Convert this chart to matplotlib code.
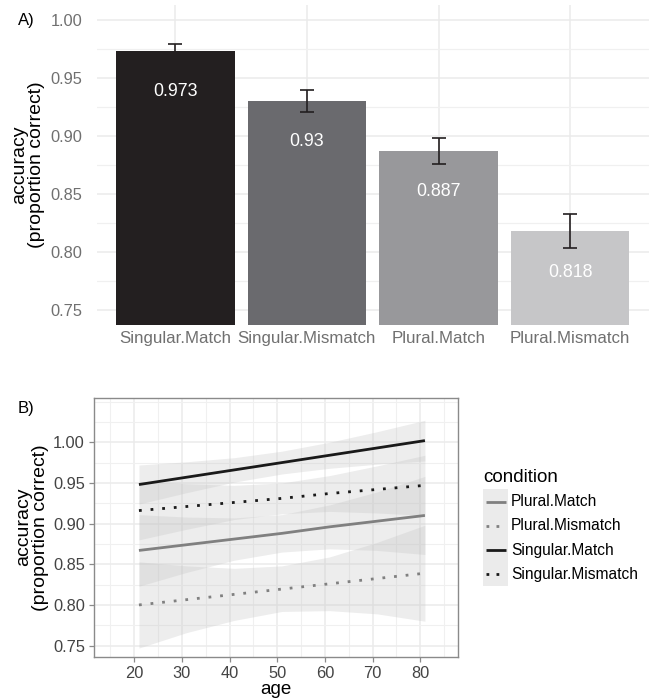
import matplotlib
matplotlib.use("Agg")
import matplotlib.pyplot as plt
from matplotlib.patches import Rectangle
from matplotlib.lines import Line2D

plt.rcParams["font.family"] = ["Liberation Sans", "DejaVu Sans"]

# ---- panel A: mean accuracy per condition ----
conditions = ["Singular.Match", "Singular.Mismatch", "Plural.Match", "Plural.Mismatch"]
accuracy = [0.973, 0.93, 0.887, 0.818]
accuracy_se = [0.006, 0.0095, 0.0115, 0.0145]
bar_colors = ["#231f20", "#6a6a6e", "#98989b", "#c6c6c8"]

# ---- panel B: linear fits of accuracy by age, with confidence bands ----
ages = [21, 31, 41, 51, 61, 71, 81]
age_ticks = [20, 30, 40, 50, 60, 70, 80]

sing_match_fit = [0.948, 0.957, 0.966, 0.975, 0.984, 0.993, 1.002]
sing_match_lo = [0.924, 0.938, 0.951, 0.961, 0.968, 0.973, 0.977]
sing_match_hi = [0.972, 0.976, 0.981, 0.989, 1.000, 1.013, 1.027]

sing_mis_fit = [0.916, 0.921, 0.926, 0.931, 0.937, 0.942, 0.947]
sing_mis_lo = [0.880, 0.893, 0.905, 0.912, 0.915, 0.913, 0.910]
sing_mis_hi = [0.952, 0.949, 0.947, 0.950, 0.959, 0.971, 0.984]

plur_match_fit = [0.867, 0.874, 0.881, 0.888, 0.896, 0.903, 0.910]
plur_match_lo = [0.823, 0.840, 0.855, 0.865, 0.869, 0.867, 0.862]
plur_match_hi = [0.911, 0.908, 0.907, 0.911, 0.923, 0.939, 0.958]

plur_mis_fit = [0.800, 0.8065, 0.813, 0.8195, 0.826, 0.8325, 0.839]
plur_mis_lo = [0.747, 0.766, 0.781, 0.792, 0.793, 0.789, 0.780]
plur_mis_hi = [0.853, 0.848, 0.845, 0.848, 0.859, 0.877, 0.898]

legend_order = ["Plural.Match", "Plural.Mismatch", "Singular.Match", "Singular.Mismatch"]

W, H, DPI = 658, 698, 100
fig = plt.figure(figsize=(W / DPI, H / DPI), dpi=DPI)
fig.patch.set_facecolor("white")


def box(left, top, right, bottom):
    return [left / W, 1 - bottom / H, (right - left) / W, (bottom - top) / H]


GRID = "#ebebeb"

# ================= Panel A =================
axA = fig.add_axes(box(96.5, 5, 649, 325))
xpos = list(range(1, len(conditions) + 1))
axA.bar(xpos, accuracy, width=0.9, color=bar_colors, zorder=2)
axA.errorbar(xpos, accuracy, yerr=accuracy_se, fmt="none", ecolor="#231f20",
             elinewidth=1.2, capsize=4.7, capthick=1.2, zorder=3)
for x, v in zip(xpos, accuracy):
    axA.text(x, v - 0.035, f"{v:g}", ha="center", va="center", color="white",
             fontsize=12.8, zorder=4)

axA.set_xlim(0.4, 4.6)
axA.set_ylim(0.7375, 1.0125)
axA.set_xticks(xpos)
axA.set_xticklabels(conditions, fontsize=12.2)
axA.set_yticks([0.75, 0.80, 0.85, 0.90, 0.95, 1.00])
axA.set_yticklabels(["0.75", "0.80", "0.85", "0.90", "0.95", "1.00"], fontsize=11.8)
axA.set_yticks([0.775, 0.825, 0.875, 0.925, 0.975], minor=True)
axA.grid(True, which="major", color=GRID, lw=1.1, zorder=0)
axA.grid(True, which="minor", axis="y", color="#f0f0f0", lw=0.9, zorder=0)
axA.set_axisbelow(True)
for s in axA.spines.values():
    s.set_visible(False)
axA.tick_params(which="both", length=0, labelcolor="#707070")
axA.tick_params(axis="y", pad=10)
axA.tick_params(axis="x", pad=4)
axA.set_ylabel("accuracy\n(proportion correct)", fontsize=14, color="black",
               labelpad=4, linespacing=1.0)
fig.text(18 / W, 1 - 21 / H, "A)", fontsize=12, ha="left", va="center")

# ================= Panel B =================
axB = fig.add_axes(box(94, 397.5, 458.3, 657))
band_color = "#c4c4c4"
series = {
    "Plural.Match": (plur_match_fit, plur_match_lo, plur_match_hi, "#808080", "-"),
    "Plural.Mismatch": (plur_mis_fit, plur_mis_lo, plur_mis_hi, "#808080", ":"),
    "Singular.Match": (sing_match_fit, sing_match_lo, sing_match_hi, "#1a1a1a", "-"),
    "Singular.Mismatch": (sing_mis_fit, sing_mis_lo, sing_mis_hi, "#1a1a1a", ":"),
}
dot_style = (0, (1.0, 3.2))
for name in legend_order:
    fit, lo, hi, col, ls = series[name]
    axB.fill_between(ages, lo, hi, color=band_color, alpha=0.3, lw=0, zorder=2)
for name in legend_order:
    fit, lo, hi, col, ls = series[name]
    style = dot_style if ls == ":" else "-"
    axB.plot(ages, fit, color=col, lw=2.0, linestyle=style,
             dash_capstyle="butt", solid_capstyle="butt", zorder=3)

axB.set_xlim(11.57, 88.0)
axB.set_ylim(0.736, 1.055)
axB.set_xticks(age_ticks)
axB.set_xticks([15, 25, 35, 45, 55, 65, 75, 85], minor=True)
axB.set_yticks([0.75, 0.80, 0.85, 0.90, 0.95, 1.00])
axB.set_yticklabels(["0.75", "0.80", "0.85", "0.90", "0.95", "1.00"])
axB.set_yticks([0.775, 0.825, 0.875, 0.925, 0.975, 1.025, 1.05], minor=True)
axB.grid(True, which="major", color=GRID, lw=1.1, zorder=0)
axB.grid(True, which="minor", color="#f0f0f0", lw=0.8, zorder=0)
axB.set_axisbelow(True)
for s in axB.spines.values():
    s.set_color("#8a8a8a")
    s.set_linewidth(1.0)
axB.tick_params(which="major", length=3.5, color="#8a8a8a", width=0.9,
                labelsize=11.8, labelcolor="#444444", pad=3)
axB.tick_params(which="minor", length=0)
axB.set_xlabel("age", fontsize=13.5, labelpad=0)
axB.set_ylabel("accuracy\n(proportion correct)", fontsize=14, labelpad=3,
               linespacing=1.0)
fig.text(18 / W, 1 - 408 / H, "B)", fontsize=12, ha="left", va="center")

# ---- legend ----
fig.text(483 / W, 1 - 478 / H, "condition", fontsize=13.5, ha="left", va="center")
fig.patches.append(Rectangle((483 / W, 1 - 586 / H), 25 / W, 97 / H,
                             transform=fig.transFigure, facecolor="#ebebeb",
                             edgecolor="none"))
key_rows = [502, 526, 550, 574]
for name, yrow in zip(legend_order, key_rows):
    fit, lo, hi, col, ls = series[name]
    style = (0, (1.0, 2.6)) if ls == ":" else "-"
    fig.lines.append(Line2D([486 / W, 506 / W], [1 - yrow / H, 1 - yrow / H],
                            transform=fig.transFigure, color=col, lw=2.0,
                            linestyle=style, dash_capstyle="butt",
                            solid_capstyle="butt"))
    fig.text(511 / W, 1 - yrow / H, name, fontsize=11.2, ha="left", va="center")

fig.savefig("out.png", dpi=DPI, facecolor="white")
